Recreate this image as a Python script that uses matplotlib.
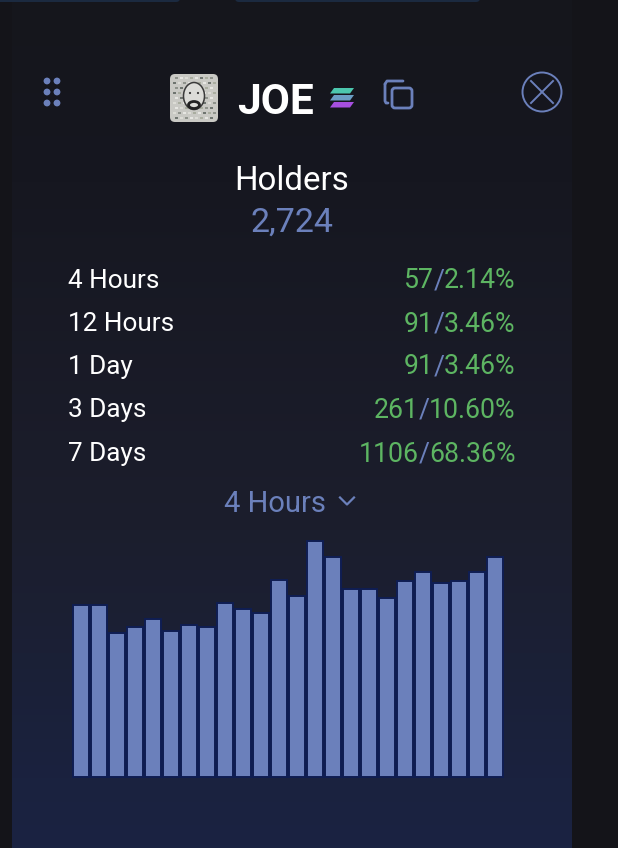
import matplotlib
matplotlib.use('Agg')
import matplotlib.pyplot as plt
from matplotlib.patches import Circle, Ellipse, FancyBboxPatch, Polygon, Rectangle
import numpy as np

plt.rcParams['font.family'] = ['Roboto', 'DejaVu Sans']

# bar heights (no axis in the original, so in px)
bar_values = [172, 172, 144, 150, 158, 146, 152, 150, 174, 168, 164, 197,
              181, 236, 220, 188, 188, 179, 196, 205, 194, 196, 205, 220]

periods = ['4 Hours', '12 Hours', '1 Day', '3 Days', '7 Days']
counts = ['57', '91', '91', '261', '1106']
percents = ['2.14%', '3.46%', '3.46%', '10.60%', '68.36%']

title = 'JOE'
metric = 'Holders'
metric_total = '2,724'
selected = '4 Hours'

BLUE = '#6b80bb'
GREEN = '#5db562'
W, H = 618, 848

fig = plt.figure(figsize=(W / 100, H / 100), dpi=100, facecolor='#141419')

# whole figure axes in pixel coords for the card furniture
bg = fig.add_axes([0, 0, 1, 1])
bg.set_xlim(0, W)
bg.set_ylim(H, 0)
bg.axis('off')

# card background, stops
ys = np.linspace(0, H, 256)
stops_y = [0, 180, 530, 780, 848]
grad = np.stack([
    np.interp(ys, stops_y, [0x15, 0x16, 0x1c, 0x1a, 0x1a]),
    np.interp(ys, stops_y, [0x16, 0x17, 0x1e, 0x22, 0x23]),
    np.interp(ys, stops_y, [0x1c, 0x20, 0x2d, 0x3f, 0x42]),
], axis=1)[:, None, :] / 255
bg.imshow(grad, extent=[12, 572, H, 0], aspect='auto', zorder=0)
bg.set_xlim(0, W)
bg.set_ylim(H, 0)

# bits of the cards above, cut off by the screenshot
bg.add_patch(FancyBboxPatch((-10, -12), 190, 14, boxstyle='round,pad=0,rounding_size=4', fc='#1b2a40', ec='none'))
bg.add_patch(FancyBboxPatch((235, -12), 245, 14, boxstyle='round,pad=0,rounding_size=4', fc='#1b2a40', ec='none'))

# grip dots
for x in [47, 57]:
    for y in [81, 92, 103]:
        bg.add_patch(Circle((x, y), 3.4, fc=BLUE, ec='none'))

# avatar, speckled square with a face
bg.add_patch(FancyBboxPatch((170, 74), 48, 48, boxstyle='round,pad=0,rounding_size=5', fc='#c9c9c4', ec='none'))
speck_cols = ['#8f938c', '#e6e6e2', '#6f7570', '#dcdcd6', '#a9ad9f']
n = 0
for sy in range(77, 120, 5):
    for sx in range(173 + (sy % 2) * 2, 215, 5):
        bg.add_patch(Rectangle((sx, sy), 2.6, 2.2, fc=speck_cols[n % 5], ec='none'))
        n += 2 if n % 3 else 1
bg.add_patch(Ellipse((194, 96), 21, 27, fc='#dcdcd8', ec='#3a3a3a', lw=1.1))
bg.add_patch(Circle((190, 93), 1.1, fc='#333333', ec='none'))
bg.add_patch(Circle((198, 93), 1.1, fc='#333333', ec='none'))
bg.add_patch(Ellipse((194, 105), 11, 7, fc='none', ec='#222222', lw=2))

# title
bg.text(237.5, 102, title, color='white', fontsize=30.5, fontweight='bold', va='center', ha='left')

# solana mark
sol_cols = ['#4cc7ae', '#6b9dc4', '#a64fe0']
for y0, col in zip([88, 95, 102], sol_cols):
    bg.add_patch(Polygon([(334, y0), (354, y0), (350, y0 + 5.5), (330, y0 + 5.5)], fc=col, ec='none'))

# copy icon
bg.add_patch(FancyBboxPatch((392, 88), 20, 20, boxstyle='round,pad=0,rounding_size=3', fc='none', ec=BLUE, lw=2))
bg.plot([388, 386, 385, 385], [103, 103, 101, 84], color=BLUE, lw=2, solid_capstyle='round')
bg.plot([385, 387, 403], [84, 81, 81], color=BLUE, lw=2, solid_capstyle='round')

# close button
bg.add_patch(Circle((542, 92), 19.5, fc='none', ec=BLUE, lw=1.4))
bg.plot([531, 553], [81, 103], color=BLUE, lw=1.4)
bg.plot([553, 531], [81, 103], color=BLUE, lw=1.4)

# heading
bg.text(292, 181, metric, color='white', fontsize=23.8, va='center', ha='center')
bg.text(292, 223, metric_total, color=BLUE, fontsize=24.5, va='center', ha='center')

# table rows, right hand side built piece by piece for the grey slash
fig.canvas.draw()
rend = fig.canvas.get_renderer()
row_y = [281, 324, 367, 410, 454]
for period, count, pct, y in zip(periods, counts, percents, row_y):
    bg.text(68.5, y, period, color='white', fontsize=18.8, va='center', ha='left')
    x = 515.5
    for piece, col in [(pct, GREEN), ('/', BLUE), (count, GREEN)]:
        txt = bg.text(x, y, piece, color=col, fontsize=19.2, va='center', ha='right')
        x -= txt.get_window_extent(rend).width - 0.5

# dropdown
bg.text(274.5, 503.5, selected, color=BLUE, fontsize=21, va='center', ha='center')
bg.plot([340, 347, 354], [497.5, 504.5, 497.5], color=BLUE, lw=1.6)

# bars: axes spans 24 slots of 18 px, baseline at y=777
ax = fig.add_axes([72 / W, (H - 777) / H, 432 / W, 236 / H])
ax.patch.set_alpha(0)
ax.bar(range(len(bar_values)), bar_values, width=0.9, color=BLUE, edgecolor='#0f1d52', linewidth=1.4)
ax.set_xlim(-0.5, 23.5)
ax.set_ylim(0, 236)
ax.axis('off')
for p in ax.patches:
    p.set_clip_on(False)

fig.savefig('out.png', dpi=100, facecolor=fig.get_facecolor())
